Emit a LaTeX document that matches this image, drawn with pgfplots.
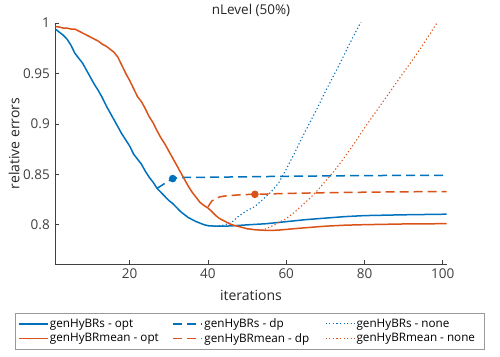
\documentclass[border=0pt]{standalone}
\usepackage{pgfplots}
\pgfplotsset{compat=1.18}
\usepackage{fontspec}
\setmainfont{Open Sans}
\definecolor{mblue}{RGB}{0,114,189}
\definecolor{morange}{RGB}{217,83,25}
\definecolor{axgray}{RGB}{64,64,64}
\newcommand{\tickfont}{\fontsize{13.5}{15}\selectfont}
\newcommand{\lblfont}{\fontsize{14}{16}\selectfont}
\newcommand{\legfont}{\fontsize{11.7}{13.5}\selectfont}

\begin{document}
\begin{tikzpicture}
  \path[use as bounding box] (-55.3pt,-92pt) rectangle (444.7pt,264pt);
  \begin{axis}[
    at={(0,0)}, anchor=south west,
    scale only axis, width=391.4pt, height=241pt,
    xmin=1, xmax=101, ymin=0.761, ymax=1,
    axis x line*=bottom, axis y line*=left,
    axis line style={axgray, line width=0.6pt},
    tick style={axgray, line width=0.6pt},
    tick align=inside, major tick length=4pt,
    xtick={20,40,60,80,100},
    ytick={0.8,0.85,0.9,0.95,1},
    yticklabels={0.8,0.85,0.9,0.95,1},
    /pgf/number format/assume math mode=true,
    every tick label/.append style={font=\tickfont, text=axgray},
    xticklabel style={font=\tickfont, yshift=-1pt},
    yticklabel style={font=\tickfont, xshift=-2pt},
    xlabel={\lblfont iterations},
    xlabel style={at={(0.5,0)}, anchor=base, yshift=-36pt, text=black!85},
    ylabel={\lblfont relative errors},
    ylabel style={at={(axis description cs:-0.092,0.5)}, anchor=base, text=black!85},
    legend columns=3,
    legend cell align=left,
    legend style={at={(0.4975,-0.203)}, anchor=north, draw=black!40,
      line width=0.6pt, font=\legfont, inner xsep=2.5pt, inner ysep=4pt,
      nodes={inner sep=1.5pt}, row sep=1pt},
    legend image code/.code={\draw[#1] (0pt,0pt) -- (29pt,0pt);},
    every axis plot/.append style={line width=1.5pt},
  ]
    % genHyBRs - opt
    \addplot[mblue] coordinates {
      (1,0.994) (2,0.991) (3,0.988) (4,0.984) (5,0.978) (6,0.970) (7,0.965)
      (8,0.960) (9,0.953) (10,0.946) (11,0.939) (12,0.933) (13,0.926)
      (14,0.918) (15,0.911) (16,0.904) (17,0.897) (18,0.890) (19,0.884)
      (20,0.878) (21,0.870) (22,0.865) (23,0.860) (24,0.853) (25,0.847)
      (26,0.842) (27,0.836) (28,0.832) (29,0.828) (30,0.824) (31,0.821)
      (32,0.817) (33,0.813) (34,0.810) (35,0.807) (36,0.805) (37,0.803)
      (38,0.8015) (39,0.800) (40,0.799) (42,0.7985) (44,0.7985) (46,0.7988)
      (48,0.7993) (50,0.7998) (55,0.801) (60,0.803) (65,0.805) (70,0.8065)
      (75,0.808) (80,0.809) (90,0.8098) (101,0.8104)
    };
    \addlegendentry{\makebox[121pt][l]{genHyBRs - opt}}
    % genHyBRs - dp
    \addplot[mblue, dash pattern=on 9pt off 5pt] coordinates {
      (27,0.836) (28,0.8385) (29,0.841) (30,0.8435) (31,0.8457) (32,0.8463)
      (34,0.8468) (40,0.847) (50,0.8475) (60,0.848) (80,0.8487) (101,0.849)
    };
    \addlegendentry{\makebox[119pt][l]{genHyBRs - dp}}
    % genHyBRs - none
    \addplot[mblue, line width=1.1pt, dash pattern=on 1.2pt off 2.4pt] coordinates {
      (40,0.799) (42,0.7985) (44,0.7995) (46,0.802) (48,0.809) (50,0.814)
      (52,0.818) (54,0.825) (56,0.832) (58,0.841) (60,0.855) (62,0.870)
      (64,0.886) (66,0.901) (68,0.916) (70,0.932) (72,0.947) (74,0.962)
      (76,0.978) (78,0.993) (80,1.008)
    };
    \addlegendentry{\makebox[124pt][l]{genHyBRs - none}}
    % genHyBRmean - opt
    \addplot[morange] coordinates {
      (1,0.9966) (2,0.996) (3,0.995) (4,0.995) (5,0.994) (6,0.994) (7,0.992)
      (8,0.990) (9,0.988) (10,0.986) (11,0.984) (12,0.982) (13,0.979)
      (14,0.977) (15,0.974) (16,0.971) (17,0.966) (18,0.958) (19,0.950)
      (20,0.943) (21,0.935) (22,0.927) (23,0.922) (24,0.915) (25,0.907)
      (26,0.901) (27,0.893) (28,0.886) (29,0.880) (30,0.873) (31,0.866)
      (32,0.859) (33,0.852) (34,0.845) (35,0.838) (36,0.832) (37,0.827)
      (38,0.822) (39,0.819) (40,0.8165) (41,0.813) (42,0.809) (43,0.806)
      (44,0.804) (45,0.802) (46,0.800) (48,0.798) (50,0.796) (52,0.795)
      (54,0.7945) (56,0.7943) (58,0.7946) (60,0.7953) (65,0.797) (70,0.7985)
      (75,0.7995) (80,0.800) (90,0.8007) (101,0.801)
    };
    \addlegendentry{genHyBRmean - opt}
    % genHyBRmean - dp
    \addplot[morange, dash pattern=on 9pt off 5pt] coordinates {
      (40,0.8177) (41,0.8235) (42,0.826) (43,0.8275) (44,0.8283) (46,0.829)
      (48,0.8296) (50,0.8299) (52,0.8301) (56,0.8305) (60,0.831) (70,0.8317)
      (80,0.8322) (90,0.8326) (101,0.8328)
    };
    \addlegendentry{genHyBRmean - dp}
    % genHyBRmean - none
    \addplot[morange, line width=1.1pt, dash pattern=on 1.2pt off 2.4pt] coordinates {
      (50,0.796) (52,0.795) (54,0.7945) (56,0.798) (58,0.802) (60,0.806)
      (62,0.812) (64,0.819) (66,0.826) (68,0.834) (70,0.843) (72,0.852)
      (74,0.862) (76,0.873) (78,0.884) (80,0.896) (82,0.907) (84,0.918)
      (86,0.929) (88,0.940) (90,0.951) (92,0.962) (94,0.973) (96,0.985)
      (98,0.997) (100,1.009)
    };
    \addlegendentry{genHyBRmean - none}
    % stopping points
    \addplot[mblue, only marks, mark=*, mark size=3pt, forget plot] coordinates {(31,0.8457)};
    \addplot[morange, only marks, mark=*, mark size=3pt, forget plot] coordinates {(52,0.8301)};
  \end{axis}
  \node[anchor=base, text=black!85, font=\fontsize{13.5}{15}\selectfont]
    at ([yshift=8.5pt]current axis.north) {nLevel (50\%)};
\end{tikzpicture}
\end{document}
